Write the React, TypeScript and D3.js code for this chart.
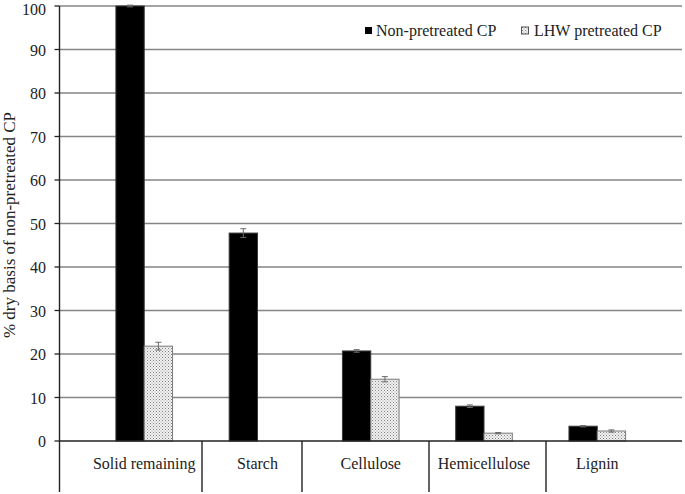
import React from "react";
import * as d3 from "d3";

const categories = ["Solid remaining", "Starch", "Cellulose", "Hemicellulose", "Lignin"];
const seriesNames = ["Non-pretreated CP", "LHW pretreated CP"];
const nonPretreated = [100, 47.8, 20.7, 8.0, 3.4];
const nonPretreatedErr = [0.2, 1.0, 0.3, 0.3, 0.15];
const lhwPretreated = [21.8, 0, 14.2, 1.8, 2.3];
const lhwPretreatedErr = [0.9, 0, 0.6, 0.15, 0.25];
const yTicks = [0, 10, 20, 30, 40, 50, 60, 70, 80, 90, 100];
const yTitle = "% dry basis of non-pretreated CP";

const W = 685;
const H = 494;
const plotLeft = 59.5;
const plotRight = 682;
const plotTop = 6;
const plotBottom = 441;
// x positions of the category separator lines below the axis (layout)
const separatorX = [202, 302, 429, 546];
const FONT = "Liberation Serif";
const textStyle = { fontFamily: FONT };

export default function App() {
  const x0 = d3
    .scaleBand<string>()
    .domain(categories)
    .range([plotLeft, plotRight])
    .paddingInner(0)
    .paddingOuter(0.248);
  const bw = x0.bandwidth();
  const x1 = d3
    .scaleBand<string>()
    .domain(seriesNames)
    .range([bw * 0.25, bw * 0.75])
    .padding(0);
  const y = d3.scaleLinear().domain([0, 100]).range([plotBottom, plotTop]);

  const series = [
    { name: seriesNames[0], values: nonPretreated, errs: nonPretreatedErr, fill: "#000000", stroke: "#3a3a3a" },
    { name: seriesNames[1], values: lhwPretreated, errs: lhwPretreatedErr, fill: "url(#dots)", stroke: "#7a7a7a" },
  ];

  return (
    <svg
      width={W}
      height={H}
      style={{ position: "absolute", left: 0, top: 0, background: "#fff", fontFamily: FONT }}
    >
      <defs>
        <pattern id="dots" width={3} height={3} patternUnits="userSpaceOnUse">
          <rect width={3} height={3} fill="#f2f2f2" />
          <rect x={0} y={0} width={1} height={1} fill="#808080" />
          <rect x={1.5} y={1.5} width={1} height={1} fill="#9a9a9a" />
        </pattern>
      </defs>
      <rect width={W} height={H} fill="#fff" />

      {/* gridlines */}
      {yTicks.filter((t) => t > 0).map((t) => (
        <line key={t} x1={plotLeft} x2={plotRight} y1={y(t)} y2={y(t)} stroke="#858585" strokeWidth={1.3} />
      ))}

      {/* bars */}
      {series.map((s) =>
        categories.map((c, i) =>
          s.values[i] > 0 ? (
            <rect
              key={s.name + c}
              x={(x0(c) as number) + (x1(s.name) as number)}
              y={y(s.values[i])}
              width={x1.bandwidth()}
              height={y(0) - y(s.values[i])}
              fill={s.fill}
              stroke={s.stroke}
              strokeWidth={1}
            />
          ) : null
        )
      )}

      {/* error bars */}
      {series.map((s) =>
        categories.map((c, i) => {
          if (s.errs[i] <= 0) return null;
          const cx = (x0(c) as number) + (x1(s.name) as number) + x1.bandwidth() / 2;
          const yt = y(s.values[i] + s.errs[i]);
          const yb = y(s.values[i] - s.errs[i]);
          return (
            <g key={"e" + s.name + c} stroke="#6a6a6a" strokeWidth={1}>
              <line x1={cx} x2={cx} y1={yt} y2={yb} />
              <line x1={cx - 3} x2={cx + 3} y1={yt} y2={yt} />
              <line x1={cx - 3} x2={cx + 3} y1={yb} y2={yb} />
            </g>
          );
        })
      )}

      {/* y axis */}
      <line x1={plotLeft} x2={plotLeft} y1={plotTop} y2={plotBottom} stroke="#222" strokeWidth={1.4} />
      {yTicks.map((t) => (
        <g key={"t" + t}>
          <line x1={plotLeft - 5} x2={plotLeft} y1={y(t)} y2={y(t)} stroke="#222" strokeWidth={1.3} />
          <text x={46} y={Math.max(y(t) + 6, 14.5)} textAnchor="end" fontSize={16} fill="#222" style={textStyle}>
            {t}
          </text>
        </g>
      ))}
      <text
        transform={`translate(15, 225) rotate(-90)`}
        textAnchor="middle"
        fontSize={17}
        fill="#222"
        style={textStyle}
      >
        {yTitle}
      </text>

      {/* x axis */}
      <line x1={plotLeft} x2={plotRight} y1={plotBottom} y2={plotBottom} stroke="#222" strokeWidth={1.5} />
      <line x1={plotLeft} x2={plotLeft} y1={plotBottom} y2={492} stroke="#222" strokeWidth={1.4} />
      {separatorX.map((sx) => (
        <line key={"s" + sx} x1={sx} x2={sx} y1={plotBottom} y2={492} stroke="#222" strokeWidth={1.4} />
      ))}
      {categories.map((c) => (
        <text key={"c" + c} x={(x0(c) as number) + bw / 2} y={469} textAnchor="middle" fontSize={16} fill="#222" style={textStyle}>
          {c}
        </text>
      ))}

      {/* legend */}
      <g>
        <rect x={365} y={27} width={7} height={7} fill="#000" />
        <text x={376} y={36} fontSize={16} fill="#222" style={textStyle}>{seriesNames[0]}</text>
        <rect x={521.5} y={27} width={7} height={7} fill="url(#dots)" stroke="#555" strokeWidth={1} />
        <text x={534} y={36} fontSize={16} fill="#222" style={textStyle}>{seriesNames[1]}</text>
      </g>
    </svg>
  );
}
